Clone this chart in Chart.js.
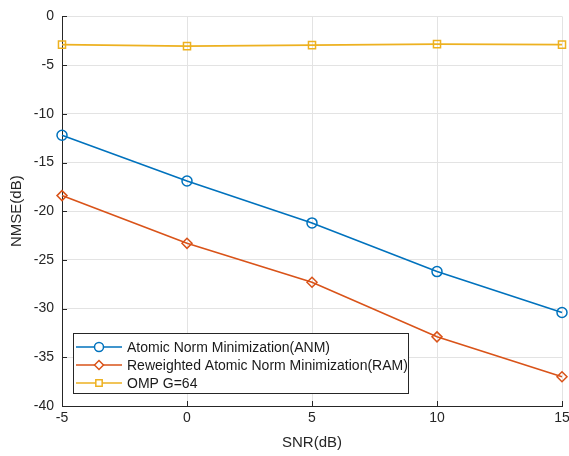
<!DOCTYPE html>
<html>
<head>
<meta charset="utf-8">
<script src="https://cdn.jsdelivr.net/npm/chart.js@4"></script>
<style>
  html, body { margin: 0; padding: 0; background: #fff; }
  #wrap { width: 569px; height: 456px; }
</style>
</head>
<body>
<div id="wrap"><canvas id="chart" width="569" height="456"></canvas></div>
<script>
const snr = [-5, 0, 5, 10, 15];
const anm = [-12.2, -16.9, -21.2, -26.2, -30.4];
const ram = [-18.4, -23.3, -27.3, -32.9, -37.0];
const omp = [-2.9, -3.05, -2.95, -2.85, -2.9];
const seriesNames = [
  "Atomic Norm Minimization(ANM)",
  "Reweighted Atomic Norm Minimization(RAM)",
  "OMP G=64",
];
const colors = ["#0072BD", "#D95319", "#EDB120"];
const markers = ["circle", "rectRot", "rect"];

const toPoints = (ys) => snr.map((x, i) => ({ x: x, y: ys[i] }));

const font = "Liberation Sans, Arial, sans-serif";

// matlab style ticks pointing into the plot
const innerTicks = {
  id: "innerTicks",
  afterDatasetsDraw(chart) {
    const ctx = chart.ctx;
    const { x, y } = chart.scales;
    const area = chart.chartArea;
    ctx.save();
    ctx.strokeStyle = "#262626";
    ctx.lineWidth = 1;
    ctx.beginPath();
    x.ticks.forEach((t) => {
      const px = Math.round(x.getPixelForValue(t.value)) + 0.5;
      ctx.moveTo(px, area.bottom);
      ctx.lineTo(px, area.bottom - 5);
    });
    y.ticks.forEach((t) => {
      const py = Math.round(y.getPixelForValue(t.value)) + 0.5;
      ctx.moveTo(area.left, py);
      ctx.lineTo(area.left + 5, py);
    });
    ctx.stroke();
    ctx.restore();
  },
};

// legend drawn inside the plot, lower left, like matlab
const boxLegend = {
  id: "boxLegend",
  afterDraw(chart) {
    const ctx = chart.ctx;
    const x0 = 73, y0 = 333, w = 335, h = 60;
    ctx.save();
    ctx.fillStyle = "#fff";
    ctx.fillRect(x0, y0, w, h);
    ctx.strokeStyle = "#262626";
    ctx.lineWidth = 1;
    ctx.strokeRect(x0 + 0.5, y0 + 0.5, w, h);
    ctx.font = "14px " + font;
    ctx.textBaseline = "middle";
    seriesNames.forEach((name, i) => {
      const y = y0 + 14 + i * 18;
      ctx.strokeStyle = colors[i];
      ctx.lineWidth = 1.5;
      ctx.beginPath();
      ctx.moveTo(x0 + 3, y);
      ctx.lineTo(x0 + 49, y);
      ctx.stroke();
      ctx.fillStyle = "#fff";
      Chart.helpers.drawPoint(ctx, { pointStyle: markers[i], radius: 4.5, borderWidth: 1.5 }, x0 + 26, y);
      ctx.fillStyle = "#1a1a1a";
      ctx.fillText(name, x0 + 54, y + 1);
    });
    ctx.restore();
  },
};

new Chart(document.getElementById("chart").getContext("2d"), {
  type: "line",
  data: {
    datasets: [anm, ram, omp].map((ys, i) => ({
      label: seriesNames[i],
      data: toPoints(ys),
      borderColor: colors[i],
      backgroundColor: "rgba(0,0,0,0)",
      borderWidth: 1.6,
      pointStyle: markers[i],
      pointRadius: 5,
      pointBorderWidth: 1.5,
      pointBackgroundColor: "rgba(0,0,0,0)",
      pointBorderColor: colors[i],
      tension: 0,
      clip: false,
    })),
  },
  options: {
    responsive: false,
    animation: false,
    layout: { padding: { top: 13, right: 0, left: 4, bottom: 0 } },
    plugins: {
      legend: { display: false },
      tooltip: { enabled: false },
    },
    scales: {
      x: {
        type: "linear",
        min: -5,
        max: 15,
        ticks: { stepSize: 5, color: "#262626", font: { size: 14, family: font }, padding: 4 },
        grid: { color: "#e3e3e3", drawTicks: false },
        border: { color: "#262626", width: 1 },
        title: { display: true, text: "SNR(dB)", color: "#262626", font: { size: 15, family: font }, padding: { top: 2 } },
        afterFit(scale) {
          scale.height = 50;
          scale.paddingRight = 7;
          scale.paddingLeft = 0;
        },
      },
      y: {
        min: -40,
        max: 0,
        ticks: { stepSize: 5, color: "#262626", font: { size: 14, family: font }, padding: 8 },
        grid: { color: "#e3e3e3", drawTicks: false },
        border: { color: "#262626", width: 1 },
        title: { display: true, text: "NMSE(dB)", color: "#262626", font: { size: 15, family: font }, padding: { bottom: 2 } },
        afterFit(scale) { scale.width = 58; },
      },
    },
  },
  plugins: [innerTicks, boxLegend],
});
</script>
</body>
</html>
